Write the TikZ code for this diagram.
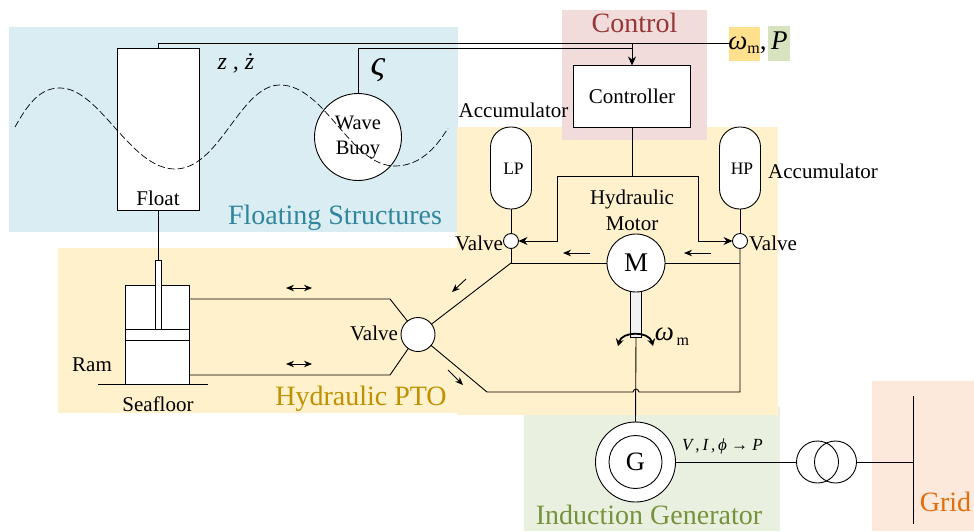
\documentclass[tikz,border=0pt]{standalone}
\usepackage{fontspec}
\setmainfont{Liberation Serif}
\usepackage{xcolor}
\usetikzlibrary{arrows.meta, positioning, calc}
\definecolor{floatblue}{RGB}{218, 237, 243}
\definecolor{ptoyellow}{RGB}{255, 241, 204}
\definecolor{controlred}{RGB}{241, 220, 219}
\definecolor{gengreen}{RGB}{233, 240, 223}
\definecolor{gridorange}{RGB}{252, 233, 219}
\definecolor{chiporange}{RGB}{255, 224, 140}
\definecolor{chipgreen}{RGB}{214, 227, 190}
\definecolor{floattext}{RGB}{49, 133, 156}
\definecolor{ptotext}{RGB}{191, 144, 0}
\definecolor{controltext}{RGB}{149, 55, 53}
\definecolor{gentext}{RGB}{118, 146, 60}
\definecolor{gridtext}{RGB}{228, 108, 10}

\begin{document}
\begin{tikzpicture}[
    x=1pt, y=-1pt,
    line width=0.9pt,
    region/.style={fill=#1, draw=none},
    regiontext/.style={text=#1, inner sep=0pt, font=\fontsize{28}{30}\selectfont},
    tag/.style={inner sep=0pt, align=center, font=\fontsize{21}{26}\selectfont},
    box/.style={rectangle, draw, fill=white, inner sep=0pt, outer sep=0pt},
    tank/.style={rectangle, rounded corners=20pt, draw, fill=white, minimum width=41pt, minimum height=82pt, inner sep=0pt, outer sep=0pt},
    valve/.style={circle, draw, fill=white, minimum size=#1, inner sep=0pt, outer sep=0pt},
    arrow/.style={->, >={Stealth[length=9pt, width=8pt]}},
    flow/.style={->, >={Stealth[length=8pt, width=6.5pt]}},
    both/.style={<->, >={Stealth[length=8pt, width=6.5pt]}}
]
\useasboundingbox (0,0) rectangle (974,531);

% Coloured regions
\fill[region=floatblue] (9,27) rectangle (458,232);
\fill[region=gengreen] (524,407) rectangle (780,531);
\fill[region=ptoyellow] (58,248) rectangle (457,413);
\fill[region=ptoyellow] (457,127) rectangle (778,415);
\fill[region=controlred] (562,10) rectangle (707,140);
\fill[region=gridorange] (872,381) rectangle (974,531);
\fill[region=chiporange] (729,27) rectangle (760,61);
\fill[region=chipgreen] (768,26) rectangle (790,61);

% Floating structures
\node[box, minimum width=82pt, minimum height=161.5pt] (floatbox) at (158.5,129.5) {};
\node[tag] (floattag) at (158,198) {Float};
\node[valve=87pt] (buoy) at (358,137) {};
\node[tag, font=\fontsize{20.5}{25}\selectfont] (buoytag) at (358,137) {Wave\\Buoy};
\draw[dash pattern=on 7pt off 3pt, line width=0.7pt] (15,127) .. controls (30,100) and (42,88) .. (60,88)
    .. controls (100,88) and (130,169) .. (175,169)
    .. controls (220,169) and (240,85) .. (280,85)
    .. controls (325,85) and (350,166) .. (395,166)
    .. controls (418,166) and (435,150) .. (448,128);
\node[tag, font=\fontsize{24}{26}\itshape] (ztag) at (236,63.5) {z , ż};
\node[tag, font=\fontsize{36}{38}\itshape] (sigmatag) at (378,70) {ς};
\node[regiontext=floattext] (floatname) at (335,218) {Floating Structures};

% Ram
\node[box, minimum width=64.5pt, minimum height=99pt] (cylinder) at (157.5,334.5) {};
\node[box, minimum width=64.5pt, minimum height=11pt] (piston) at (157.5,334.5) {};
\node[box, minimum width=6pt, minimum height=69pt] (rod) at (158.5,294.5) {};
\coordinate (groundL) at (98,384);
\coordinate (groundR) at (208,384);
\draw (groundL) -- (groundR);
\draw (floatbox.south) -- (rod.north);
\node[tag] (ramtag) at (92,365) {Ram};
\node[tag] (seatag) at (158,404) {Seafloor};

% Control
\node[box, minimum width=116.5pt, minimum height=62pt, font=\fontsize{21}{26}\selectfont] (controller) at (632,96.5) {Controller};
\node[regiontext=controltext] (controlname) at (634.5,23) {Control};
\node[inner sep=0pt] (feedback) at (758,43) {\fontsize{27}{30}\selectfont\itshape ω\raisebox{-4pt}{\upshape\fontsize{16}{18}\selectfont m}\upshape ,\itshape\,P};
\coordinate (floattop) at (158,43);
\coordinate (buoytop) at (358,48);
\coordinate (merge) at (632,48);
\coordinate (junction) at (632,43);
\coordinate (feedbackL) at (730,43);
\draw (floatbox.north -| floattop) -- (floattop) -- (feedbackL);
\draw (buoy.north) -- (buoytop) -- (merge);
\draw[arrow] (junction) -- (controller.north);

% Accumulators and valves
\node[tank] (lp) at (511,168) {};
\node[tank] (hp) at (740,168) {};
\node[tag, font=\fontsize{17.5}{20}\selectfont] (lpname) at (513.5,168.5) {LP};
\node[tag, font=\fontsize{17.5}{20}\selectfont] (hpname) at (742,168.5) {HP};
\node[valve=15pt] (lpvalve) at (511,241) {};
\node[valve=15pt] (hpvalve) at (740,241) {};
\node[tag] (lptag) at (513.5,110) {Accumulator};
\node[tag] (hptag) at (823,171) {Accumulator};
\node[tag] (lpvalvetag) at (479,243) {Valve};
\node[tag] (hpvalvetag) at (773,243) {Valve};
\draw (lp.south) -- (lpvalve.north);
\draw (hp.south) -- (hpvalve.north);

% Valve commands
\coordinate (cmd) at (632,176);
\coordinate (cmdL) at (557,176);
\coordinate (cmdR) at (698,176);
\coordinate (cmdLb) at (557,241);
\coordinate (cmdRb) at (698,241);
\draw (controller.south -| cmd) -- (cmd);
\draw[arrow] (cmd) -- (cmdL) -- (cmdLb) -- (lpvalve.east);
\draw[arrow] (cmd) -- (cmdR) -- (cmdRb) -- (hpvalve.west);

% Hydraulic motor
\node[box, fill=gray!10, minimum width=11.5pt, minimum height=46pt] (shaft) at (636,314) {};
\node[valve=58pt, font=\fontsize{27}{30}\selectfont] (motor) at (636,263) {M};
\node[tag] (motortag) at (632,210) {Hydraulic\\Motor};
\coordinate (lpnode) at (511,263);
\coordinate (hpnode) at (740,263);
\coordinate (hpbottom) at (740,392);
\coordinate (retL) at (487,392);
\coordinate (hopL) at (633,392);
\coordinate (hopR) at (639,392);
\draw (lpvalve.south) -- (lpnode) -- (motor.west);
\draw (motor.east) -- (hpnode);
\draw (hpvalve.south) -- (hpbottom) -- (hopR) .. controls (638,388) and (634,388) .. (hopL) -- (retL);

% Main valve
\node[valve=34pt] (mainvalve) at (418,334.5) {};
\node[tag] (mainvalvetag) at (374,333) {Valve};
\coordinate (ramtop) at (190,299);
\coordinate (rambot) at (190,375);
\coordinate (bendtop) at (390,299);
\coordinate (bendbot) at (390,375);
\draw (ramtop) -- (bendtop) -- (mainvalve);
\draw (rambot) -- (bendbot) -- (mainvalve);
\draw (lpnode) -- (mainvalve);
\draw (retL) -- (mainvalve);
\node[regiontext=ptotext] (ptoname) at (361,399) {Hydraulic PTO};

% Flow directions
\coordinate (a1) at (286,288); \coordinate (a2) at (312,288);
\coordinate (b1) at (286,364); \coordinate (b2) at (312,364);
\coordinate (c1) at (466,279); \coordinate (c2) at (452,292);
\coordinate (d1) at (448,370); \coordinate (d2) at (463,385);
\coordinate (e1) at (590,253); \coordinate (e2) at (563,253);
\coordinate (f1) at (711,253); \coordinate (f2) at (684,253);
\draw[both] (a1) -- (a2);
\draw[both] (b1) -- (b2);
\draw[flow] (c1) -- (c2);
\draw[flow] (d1) -- (d2);
\draw[flow] (e1) -- (e2);
\draw[flow] (f1) -- (f2);

% Generator
\node[valve=80pt] (gen) at (635.5,462) {};
\node[valve=53pt, font=\fontsize{26.5}{30}\selectfont] (genrotor) at (635.5,462) {G};
\draw (shaft.south) -- (gen.north);
\coordinate (rotL) at (618,346);
\coordinate (rotR) at (653,346);
\draw[<->, >={Stealth[length=7pt, width=8pt]}, line width=1.8pt] (rotL) .. controls (622,331) and (649,331) .. (rotR);
\node[inner sep=0pt] (speedtag) at (672,337) {\fontsize{27}{30}\selectfont\itshape ω\raisebox{-5pt}{\upshape\fontsize{16}{18}\selectfont\,m}};
\node[inner sep=0pt, font=\fontsize{17}{20}\itshape] (meastag) at (722.5,446) {V\,,\,I\,,\,ϕ → P};
\node[regiontext=gentext] (genname) at (649,515) {Induction Generator};

% Transformer and grid
\node[valve=42pt, fill=none] (trafoL) at (817.5,462) {};
\node[valve=42pt, fill=none] (trafoR) at (835.5,462) {};
\coordinate (busT) at (913,396);
\coordinate (busB) at (913,523.5);
\coordinate (busM) at (913,462);
\draw (gen.east) -- (trafoL.west);
\draw (trafoR.east) -- (busM);
\draw[line width=1pt] (busT) -- (busB);
\node[regiontext=gridtext] (gridname) at (945.5,502) {Grid};
\end{tikzpicture}
\end{document}
